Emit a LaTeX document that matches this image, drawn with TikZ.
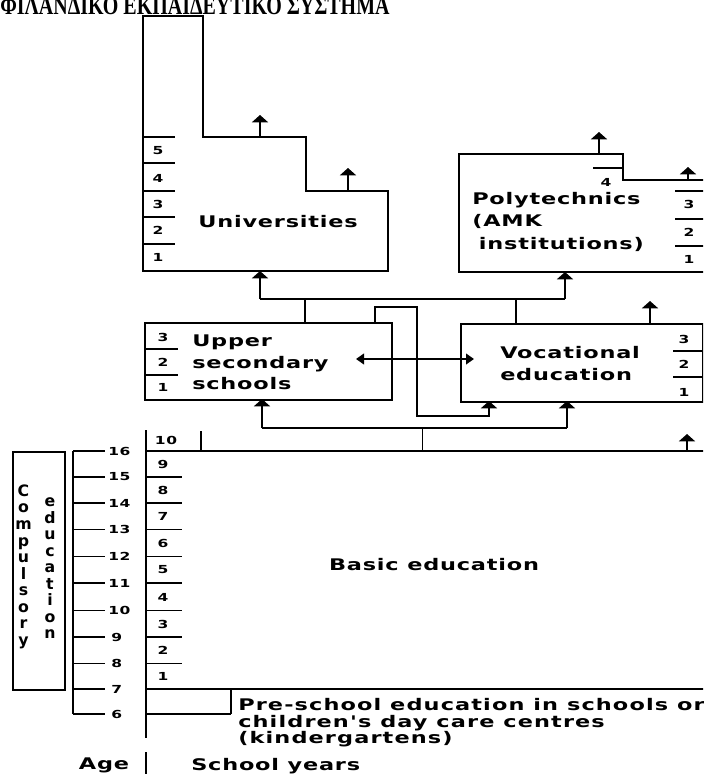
\documentclass[tikz,border=0pt]{standalone}
\usepackage{fontspec}
\usetikzlibrary{arrows.meta}
\newfontfamily\labfont{DejaVu Sans}[FakeStretch=1.4, LetterSpace=5]
\newfontfamily\prefont{DejaVu Sans}[FakeStretch=1.4, LetterSpace=7]
\newfontfamily\vertfont{DejaVu Sans}
\newfontfamily\titlefont{Liberation Serif}
\tikzset{
  ln/.style={line width=1.4pt},
  up/.style={ln,-{Triangle[width=12pt,length=5.5pt]}},
  both/.style={ln,{Triangle[width=8pt,length=6pt]}-{Triangle[width=8pt,length=6pt]}},
  big/.style={font=\labfont\bfseries\fontsize{12}{16.5}\selectfont, inner sep=0pt, align=left},
  num/.style={font=\labfont\bfseries\fontsize{8.3}{9}\selectfont, inner sep=0pt},
  vert/.style={font=\vertfont\bfseries\fontsize{11.8}{12.4}\selectfont, inner sep=0pt, align=center, anchor=north},
  box/.style={draw, ln, inner sep=0pt, anchor=north west},
}
\begin{document}
\begin{tikzpicture}[x=0.75pt,y=-0.75pt]
\useasboundingbox (0,0) rectangle (703,774);
\clip (0,0) rectangle (703,774);

% title
\node[anchor=base west, inner sep=0pt, font=\titlefont\bfseries\fontsize{15}{18}\selectfont] (title) at (0,15) {\scalebox{1}[1.3]{ΦΙΛΑΝΔΙΚΟ ΕΚΠΑΙΔΕΥΤΙΚΟ ΣΥΣΤΗΜΑ}};

% ---------- Universities ----------
\draw[ln] (143,16) -- (203,16) -- (203,137) -- (306,137) -- (306,191) -- (388,191) -- (388,271) -- (143,271) -- cycle;
\node[big] (uni) at (278,222) {Universities};
\foreach \y in {137,163,191,217,244} \draw[ln] (143,\y) -- (175,\y);
\foreach \t/\y in {5/151,4/178,3/204,2/230,1/257} \node[num] (u\t) at (158,\y) {\t};
\coordinate (uS1) at (260,137); \coordinate (uT1) at (260,115);
\coordinate (uS2) at (348,191); \coordinate (uT2) at (348,168);
\draw[up] (uS1) -- (uT1);
\draw[up] (uS2) -- (uT2);

% ---------- Polytechnics ----------
\draw[ln] (712,180) -- (623,180) -- (623,154) -- (459,154) -- (459,272) -- (712,272);
\draw[ln] (593,168) -- (623,168);
\node[num] (p4) at (606,182) {4};
\foreach \y in {191,219,246} \draw[ln] (675,\y) -- (712,\y);
\foreach \t/\y in {3/204,2/232,1/259} \node[num] (p\t) at (689,\y) {\t};
\node[big, anchor=north west, font=\labfont\bfseries\fontsize{12}{16.9}\selectfont] (poly) at (472,192) {Polytechnics\\(AMK\\\hspace*{5pt}institutions)};
\coordinate (pS1) at (599,154); \coordinate (pT1) at (599,132);
\coordinate (pS2) at (688,180); \coordinate (pT2) at (688,167);
\draw[up] (pS1) -- (pT1);
\draw[up] (pS2) -- (pT2);

% ---------- Upper secondary ----------
\node[box, minimum width=185.25pt, minimum height=57.75pt] (upper) at (144,322) {};
\draw[ln] (144,349) -- (178,349);
\draw[ln] (144,375) -- (178,375);
\foreach \t/\y in {3/337,2/362,1/387} \node[num] (s\t) at (163,\y) {\t};
\node[big, anchor=north west, font=\labfont\bfseries\fontsize{12}{16.3}\selectfont] (uppertxt) at (192,334.5) {Upper\\secondary\\schools};

% ---------- Vocational ----------
\node[box, minimum width=181.5pt, minimum height=58.5pt] (voc) at (460,323) {};
\draw[ln] (673,351) -- (702,351);
\draw[ln] (673,377) -- (702,377);
\foreach \t/\y in {3/339,2/364,1/392} \node[num] (v\t) at (684,\y) {\t};
\node[big, anchor=north west, font=\labfont\bfseries\fontsize{12}{16.5}\selectfont] (voctxt) at (500,346) {Vocational\\education};

% ---------- connectors upper level ----------
\coordinate (h1L) at (260,299); \coordinate (h1R) at (565,299);
\coordinate (uniB) at (260,271); \coordinate (polyB) at (565,272);
\coordinate (j1) at (305,299); \coordinate (upT) at (305,322);
\coordinate (j2) at (516,299); \coordinate (vocT) at (516,323);
\draw[ln] (h1L) -- (h1R);
\draw[up] (h1L) -- (uniB);
\draw[up] (h1R) -- (polyB);
\draw[ln] (j1) -- (upT);
\draw[ln] (j2) -- (vocT);

\coordinate (cA) at (375,322); \coordinate (cB) at (417,307);
\coordinate (cC) at (489,416); \coordinate (vocB1) at (489,401);
\draw[up] (cA) |- (cB) |- (cC) -- (vocB1);

\coordinate (dL) at (356,359); \coordinate (dR) at (474,359);
\draw[both] (dL) -- (dR);

\coordinate (vS3) at (650,323); \coordinate (vT3) at (650,301);
\draw[up] (vS3) -- (vT3);

% ---------- connectors lower level ----------
\coordinate (h2L) at (262,428); \coordinate (h2R) at (567,428);
\coordinate (upB) at (262,399); \coordinate (vocB2) at (567,401);
\coordinate (j3) at (422.5,428); \coordinate (basT) at (422.5,451);
\draw[ln] (h2L) -- (h2R);
\draw[up] (h2L) -- (upB);
\draw[up] (h2R) -- (vocB2);
\draw[ln] (j3) -- (basT);
\coordinate (bS) at (687,451); \coordinate (bT) at (687,434);
\draw[up] (bS) -- (bT);

% ---------- Basic education ----------
\draw[ln] (146,430) -- (146,738);
\draw[ln] (146,451) -- (712,451);
\draw[ln] (201,431) -- (201,451);
\foreach \y in {477,503,529.5,556.5,583,610.5,637,663.5} \draw[ln] (146,\y) -- (182,\y);
\draw[ln] (146,689) -- (712,689);
\draw[ln] (146,714) -- (231,714);
\draw[ln] (231,689) -- (231,714);
\node[num] (y10) at (166,440) {10};
\foreach \t/\y in {9/464,8/490,7/516.5,6/543,5/570,4/597,3/624,2/650.5,1/676} \node[num] (y\t) at (163,\y) {\t};
\node[big] (basic) at (434,565) {Basic education};
\node[anchor=north west, inner sep=0pt, align=left, font=\prefont\bfseries\fontsize{12}{12.2}\selectfont] (pre) at (238,698.5) {Pre-school education in schools or\\children's day care centres\\(kindergartens)};

% ---------- Ages ----------
\draw[ln] (73,451) -- (73,714);
\foreach \a/\y in {16/451,15/477,14/503,13/529.5,12/556.5,11/583,10/610.5} {
  \draw[ln] (73,\y) -- (105,\y);
  \node[num, anchor=west] (a\a) at (108,\y) {\a};
}
\foreach \a/\y in {9/637,8/663.5,7/689,6/714} {
  \draw[ln] (73,\y) -- (105,\y);
  \node[num, anchor=west] (a\a) at (111,\y) {\a};
}

% ---------- Compulsory education ----------
\node[box, minimum width=39pt, minimum height=178.5pt] (comp) at (12,451) {};
\node[vert] (comptxt) at (23.5,484.5) {C\\o\\m\\p\\u\\l\\s\\o\\r\\y};
\node[vert] (edutxt) at (50,497.5) {e\\d\\u\\c\\a\\t\\i\\o\\n};

% ---------- bottom legend ----------
\node[big] (age) at (104,765) {Age};
\coordinate (sepT) at (146,752); \coordinate (sepB) at (146,780);
\draw[ln] (sepT) -- (sepB);
\node[big, anchor=west] (years) at (191,766) {School years};
\end{tikzpicture}
\end{document}
